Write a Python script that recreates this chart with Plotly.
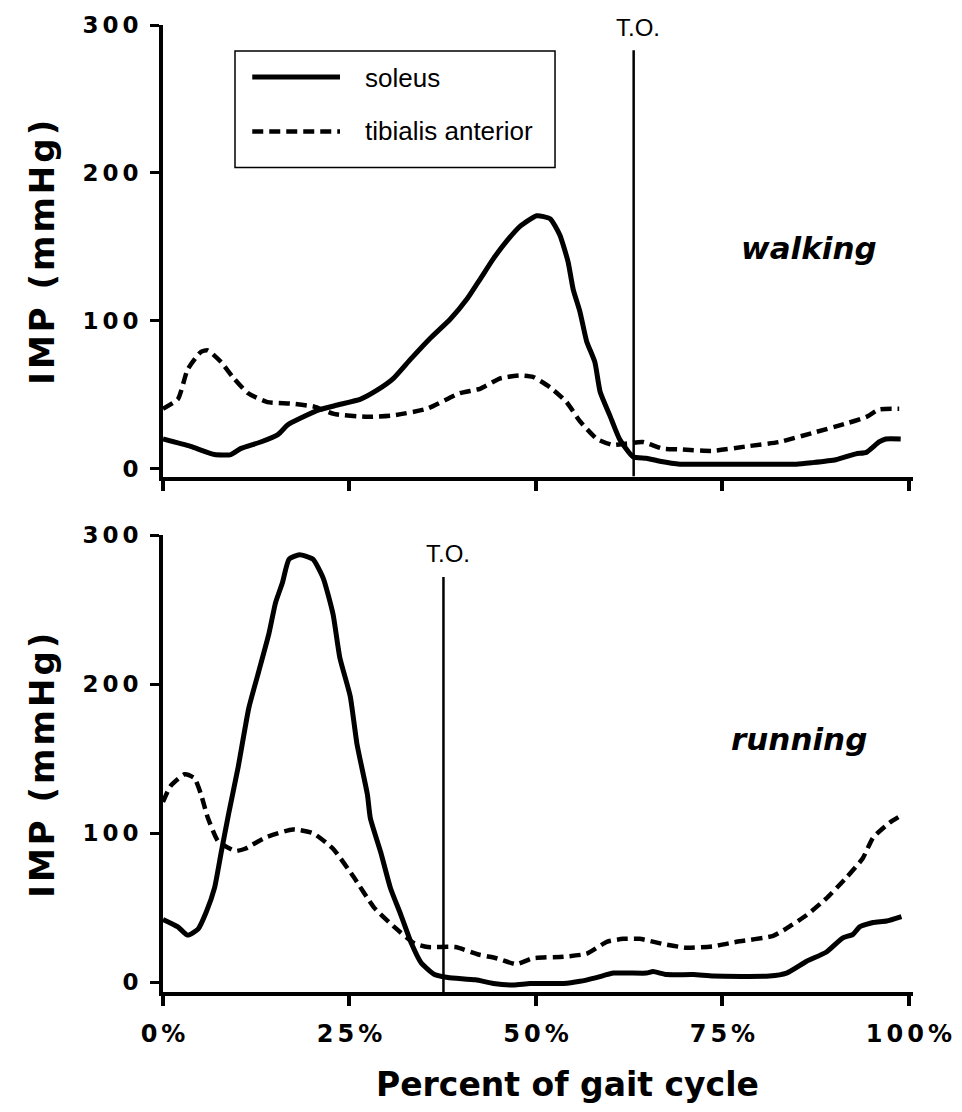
import plotly.graph_objects as go

# ---------------- data ----------------
tick_pct = [0, 25, 50, 75, 100]
tick_pct_text = ["0%", "25%", "50%", "75%", "100%"]
tick_imp = [0, 100, 200, 300]

walk_sol_x = [0, 3.7, 6.9, 9.1, 10.4, 13.1, 15.4, 16.7, 18.4, 21.1, 23.4, 26.5, 28.7, 30.9,
              33.2, 35.8, 38.5, 40.8, 42.5, 44.3, 46.1, 47.9, 50.1, 51.9, 53.2, 54.3, 55.0,
              55.9, 56.8, 57.9, 58.6, 59.9, 61.2, 63.0, 64.8, 66.6, 69.3, 73.7, 84.9, 87.0,
              90.2, 92.9, 94.3, 96.0, 96.9, 98.9]
walk_sol_y = [20, 15, 9.5, 9.5, 13.5, 18, 23, 29.5, 34, 40, 43, 47, 53, 61,
              74, 88, 101, 115, 128, 142, 154, 164, 171, 169, 158, 140, 121,
              106, 86, 72, 52, 36, 20, 8, 7, 5, 3, 3, 3, 4,
              6, 10, 11, 18, 20, 20]

walk_ta_x = [0, 2.0, 3.3, 5.1, 6.0, 7.8, 9.5, 11.4, 14.0, 17.1, 20.2, 22.9, 27.4, 30.9,
             35.4, 39.8, 42.5, 45.2, 47.9, 49.6, 51.9, 54.1, 55.9, 58.2, 60.3, 62.2, 64.3,
             67.0, 69.3, 73.7, 78.2, 82.6, 87.0, 91.6, 94.3, 96.0, 98.7]
walk_ta_y = [40.5, 47, 67, 79, 80, 72, 61, 51, 45, 44, 42, 37, 35, 36,
             40.5, 51, 54, 61, 63, 62, 55, 45, 32, 20, 16, 17, 18,
             13.5, 13, 12, 15, 18, 24, 30.5, 35, 40, 40.5]

run_sol_x = [0, 2.0, 3.3, 4.7, 5.8, 6.9, 7.8, 8.8, 10.1, 11.5, 12.8, 14.2, 15.1, 16.0, 16.9,
             18.3, 20.1, 21.5, 22.8, 23.7, 25.1, 26.0, 27.4, 27.8, 29.2, 30.5, 31.9, 33.3,
             34.6, 36.4, 38.2, 41.9, 44.3, 47.0, 49.2, 53.7, 55.9, 58.1, 60.4, 64.8, 65.7,
             67.5, 71.1, 73.8, 81.3, 83.6, 86.3, 88.9, 91.1, 92.5, 93.4, 95.2, 97.0, 99.0]
run_sol_y = [42, 37, 31.5, 35.5, 47, 63, 87, 113, 145, 184, 208, 234, 255, 268, 284,
             287, 284, 271, 247, 218, 192, 160, 126, 110, 87, 63, 45, 26,
             13, 5, 3, 1.5, -1, -2, -1, -1, 0.5, 3, 6, 6, 7,
             5, 5, 4, 4, 6, 14, 20, 29.5, 32, 37, 40, 41, 44]

run_ta_x = [0, 1.0, 2.9, 4.2, 5.1, 6.0, 7.4, 9.7, 11.0, 13.7, 17.4, 20.1, 22.8, 25.5, 28.3,
            31.0, 33.7, 35.5, 39.2, 42.3, 44.7, 47.4, 49.6, 53.7, 56.8, 59.5, 61.7, 63.9,
            67.1, 70.2, 73.8, 76.9, 81.8, 83.6, 86.3, 88.9, 91.6, 93.8, 95.2, 97.4, 99.0]
run_ta_y = [121, 131.5, 139.5, 137, 126, 110.5, 94.5, 88, 89.5, 97, 102.5, 100, 89.5, 71, 50,
            37, 26, 23.5, 23.5, 18.5, 16, 12, 16, 17, 19, 27, 29, 29,
            25.5, 23, 24, 27, 31, 36, 45, 56, 70, 83, 97, 107, 112]

toe_off_walk = 63.1   # % of gait cycle
toe_off_run = 37.6
toe_off_walk_top = 283
toe_off_run_top = 272

# ---------------- figure ----------------
BOLD = "DejaVu Sans"
REG = "Liberation Sans, Arial, sans-serif"

fig = go.Figure()

sol_line = dict(color="black", width=5, shape="spline", smoothing=0.5)
ta_line = dict(color="black", width=4.5, dash="11px,6px", shape="spline", smoothing=0.5)

fig.add_trace(go.Scatter(x=walk_sol_x, y=walk_sol_y, mode="lines", name="soleus",
                         line=sol_line, xaxis="x", yaxis="y", showlegend=False))
fig.add_trace(go.Scatter(x=walk_ta_x, y=walk_ta_y, mode="lines", name="tibialis anterior",
                         line=ta_line, xaxis="x", yaxis="y", showlegend=False))
fig.add_trace(go.Scatter(x=run_sol_x, y=run_sol_y, mode="lines", name="soleus",
                         line=sol_line, xaxis="x2", yaxis="y2", showlegend=False))
fig.add_trace(go.Scatter(x=run_ta_x, y=run_ta_y, mode="lines", name="tibialis anterior",
                         line=ta_line, xaxis="x2", yaxis="y2", showlegend=False))

xcommon = dict(range=[0, 100.55], tickvals=tick_pct, ticks="outside", ticklen=10, tickwidth=4,
               tickcolor="black", showline=True, linewidth=4, linecolor="black",
               showgrid=False, zeroline=False, domain=[0, 1])
ycommon = dict(tickvals=tick_imp, ticks="outside", ticklen=9, tickwidth=3, tickcolor="black",
               showline=True, linewidth=4, linecolor="black", showgrid=False, zeroline=False,
               tickfont=dict(family=BOLD, size=23, color="black", weight="bold"),
               ticklabelstandoff=3,
               title=dict(text="IMP (mmHg)", standoff=30,
                          font=dict(family=BOLD, size=34, color="black", weight="bold")))

fig.update_layout(
    width=962, height=1112,
    margin=dict(l=163, r=49, t=22, b=120),
    paper_bgcolor="white", plot_bgcolor="white",
    showlegend=False,
    xaxis=dict(xcommon, anchor="y", showticklabels=False),
    yaxis=dict(ycommon, anchor="x", domain=[0.533, 1.0], range=[-5.4, 300]),
    xaxis2=dict(xcommon, anchor="y2", ticktext=tick_pct_text, tickmode="array",
                tickfont=dict(family=BOLD, size=24, color="black", weight="bold"),
                ticklabelstandoff=7),
    yaxis2=dict(ycommon, anchor="x2", domain=[0.0, 0.4722], range=[-6.7, 300]),
)

shapes = [
    dict(type="line", xref="x", yref="y", x0=toe_off_walk, x1=toe_off_walk, y0=-5.4,
         y1=toe_off_walk_top, line=dict(color="black", width=2.5)),
    dict(type="line", xref="x2", yref="y2", x0=toe_off_run, x1=toe_off_run, y0=-6.7,
         y1=toe_off_run_top, line=dict(color="black", width=2.5)),
    # legend box
    dict(type="rect", xref="x domain", yref="y domain", x0=0.096, x1=0.5227, y0=0.6843,
         y1=0.9426, line=dict(color="black", width=1.5), fillcolor="rgba(0,0,0,0)"),
    dict(type="line", xref="x domain", yref="y domain", x0=0.119, x1=0.236, y0=0.885,
         y1=0.885, line=dict(color="black", width=5)),
    dict(type="line", xref="x domain", yref="y domain", x0=0.119, x1=0.236, y0=0.764,
         y1=0.764, line=dict(color="black", width=4.5, dash="11px,6px")),
]

annotations = [
    dict(text="T.O.", xref="x", yref="y", x=toe_off_walk, y=298, xshift=4, showarrow=False,
         yanchor="middle", font=dict(family=REG, size=24, color="black")),
    dict(text="T.O.", xref="x2", yref="y2", x=toe_off_run, y=288, xshift=5, showarrow=False,
         yanchor="middle", font=dict(family=REG, size=24, color="black")),
    dict(text="soleus", xref="x domain", yref="y domain", x=0.2667, y=0.883, xanchor="left",
         yanchor="middle", showarrow=False, font=dict(family=REG, size=26, color="black")),
    dict(text="tibialis anterior", xref="x domain", yref="y domain", x=0.2667, y=0.765,
         xanchor="left", yanchor="middle", showarrow=False,
         font=dict(family=REG, size=26, color="black")),
    dict(text="walking", xref="x", yref="y", x=86.6, y=149, showarrow=False,
         font=dict(family=BOLD, size=31, color="black", weight="bold", style="italic")),
    dict(text="running", xref="x2", yref="y2", x=85.2, y=163, showarrow=False,
         font=dict(family=BOLD, size=31, color="black", weight="bold", style="italic")),
    dict(text="Percent of gait cycle", xref="paper", yref="paper", x=0.5387, y=-0.0959,
         yanchor="middle", showarrow=False,
         font=dict(family=BOLD, size=33, color="black", weight="bold")),
]

fig.update_layout(shapes=shapes, annotations=annotations)

# wide tracking of the bold axis lettering, as in the reference
post = """
var gd = document.getElementsByClassName('plotly-graph-div')[0];
function track(){
  gd.querySelectorAll('.ytick text, .y2tick text').forEach(function(t){ t.style.letterSpacing='4px'; });
  gd.querySelectorAll('.xtick text, .x2tick text').forEach(function(t){ t.style.letterSpacing='4px'; t.setAttribute('dx','2'); });
  gd.querySelectorAll('.ytitle, .y2title').forEach(function(t){ t.style.letterSpacing='3px'; });
}
track();
gd.on('plotly_afterplot', track);
"""

fig.write_html("out.html", include_plotlyjs=True, config={"displayModeBar": False},
               post_script=post)
